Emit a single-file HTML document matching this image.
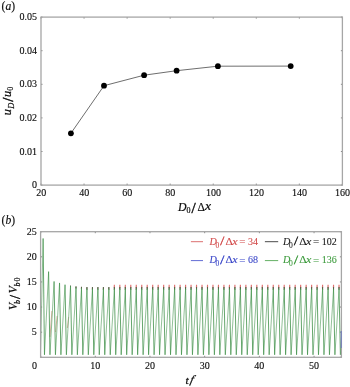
<!DOCTYPE html>
<html><head><meta charset="utf-8"><style>
html,body{margin:0;padding:0;background:#fff;}
body{width:350px;height:387px;overflow:hidden;}
svg{display:block;}
text{font-family:"Liberation Serif",serif;}
</style></head><body>
<svg width="350" height="387" viewBox="0 0 350 387">
<rect width="350" height="387" fill="#fff"/>
<text transform="translate(1.50,9.80)" font-size="11.6" fill="#0d0d0d" stroke="#0d0d0d" stroke-width="0.15">(<tspan font-style="italic">a</tspan>)</text>
<path d="M41.00 185.1v-1.5M41.00 17.1v1.5M84.06 185.1v-1.5M84.06 17.1v1.5M127.11 185.1v-1.5M127.11 17.1v1.5M170.17 185.1v-1.5M170.17 17.1v1.5M213.23 185.1v-1.5M213.23 17.1v1.5M256.29 185.1v-1.5M256.29 17.1v1.5M299.34 185.1v-1.5M299.34 17.1v1.5M342.40 185.1v-1.5M342.40 17.1v1.5M41.0 185.10h1.5M342.4 185.10h-1.5M41.0 151.50h1.5M342.4 151.50h-1.5M41.0 117.90h1.5M342.4 117.90h-1.5M41.0 84.30h1.5M342.4 84.30h-1.5M41.0 50.70h1.5M342.4 50.70h-1.5M41.0 17.10h1.5M342.4 17.10h-1.5" stroke="#666" stroke-width="0.8" fill="none"/>
<rect x="41.0" y="17.1" width="301.40" height="168.00" fill="none" stroke="#a6a6a6" stroke-width="1.3"/>
<text transform="translate(41.20,196.10) scale(0.93,1)" font-size="10.8" text-anchor="middle" fill="#0d0d0d" stroke="#0d0d0d" stroke-width="0.13" >20</text>
<text transform="translate(84.26,196.10) scale(0.93,1)" font-size="10.8" text-anchor="middle" fill="#0d0d0d" stroke="#0d0d0d" stroke-width="0.13" >40</text>
<text transform="translate(127.31,196.10) scale(0.93,1)" font-size="10.8" text-anchor="middle" fill="#0d0d0d" stroke="#0d0d0d" stroke-width="0.13" >60</text>
<text transform="translate(170.37,196.10) scale(0.93,1)" font-size="10.8" text-anchor="middle" fill="#0d0d0d" stroke="#0d0d0d" stroke-width="0.13" >80</text>
<text transform="translate(213.43,196.10) scale(0.93,1)" font-size="10.8" text-anchor="middle" fill="#0d0d0d" stroke="#0d0d0d" stroke-width="0.13" >100</text>
<text transform="translate(256.49,196.10) scale(0.93,1)" font-size="10.8" text-anchor="middle" fill="#0d0d0d" stroke="#0d0d0d" stroke-width="0.13" >120</text>
<text transform="translate(299.54,196.10) scale(0.93,1)" font-size="10.8" text-anchor="middle" fill="#0d0d0d" stroke="#0d0d0d" stroke-width="0.13" >140</text>
<text transform="translate(342.60,196.10) scale(0.93,1)" font-size="10.8" text-anchor="middle" fill="#0d0d0d" stroke="#0d0d0d" stroke-width="0.13" >160</text>
<text transform="translate(37.10,188.11) scale(0.93,1)" font-size="10.8" text-anchor="end" fill="#0d0d0d" stroke="#0d0d0d" stroke-width="0.13" >0</text>
<text transform="translate(37.10,154.51) scale(0.93,1)" font-size="10.8" text-anchor="end" fill="#0d0d0d" stroke="#0d0d0d" stroke-width="0.13" >0.01</text>
<text transform="translate(37.10,120.91) scale(0.93,1)" font-size="10.8" text-anchor="end" fill="#0d0d0d" stroke="#0d0d0d" stroke-width="0.13" >0.02</text>
<text transform="translate(37.10,87.31) scale(0.93,1)" font-size="10.8" text-anchor="end" fill="#0d0d0d" stroke="#0d0d0d" stroke-width="0.13" >0.03</text>
<text transform="translate(37.10,53.71) scale(0.93,1)" font-size="10.8" text-anchor="end" fill="#0d0d0d" stroke="#0d0d0d" stroke-width="0.13" >0.04</text>
<text transform="translate(37.10,20.11) scale(0.93,1)" font-size="10.8" text-anchor="end" fill="#0d0d0d" stroke="#0d0d0d" stroke-width="0.13" >0.05</text>
<polyline points="70.9,133.3 104.0,85.7 144.1,75.2 176.6,70.7 217.9,66.2 290.7,66.1" fill="none" stroke="#6e6e6e" stroke-width="1"/>
<circle cx="70.9" cy="133.3" r="2.9" fill="#000"/>
<circle cx="104.0" cy="85.7" r="2.9" fill="#000"/>
<circle cx="144.1" cy="75.2" r="2.9" fill="#000"/>
<circle cx="176.6" cy="70.7" r="2.9" fill="#000"/>
<circle cx="217.9" cy="66.2" r="2.9" fill="#000"/>
<circle cx="290.7" cy="66.1" r="2.9" fill="#000"/>
<text transform="translate(178.10,210.60)" font-size="11.8" font-style="italic" fill="#0d0d0d" stroke="#0d0d0d" stroke-width="0.2">D</text>
<text transform="translate(186.60,213.40)" font-size="8" fill="#0d0d0d" stroke="#0d0d0d" stroke-width="0.2">0</text>
<text transform="translate(191.40,212.60)" font-size="15" fill="#0d0d0d" stroke="#0d0d0d" stroke-width="0.45">/</text>
<text transform="translate(197.40,210.50)" font-size="11.5" fill="#0d0d0d" stroke="#0d0d0d" stroke-width="0.2">Δ</text>
<text transform="translate(205.10,210.40) scale(1.2,1)" font-size="11.5" font-style="italic" fill="#0d0d0d" stroke="#0d0d0d" stroke-width="0.2">x</text>
<g transform="translate(11,0) rotate(-90)">
<text transform="translate(-115.30,0.00)" font-size="12.3" font-style="italic" fill="#0d0d0d" stroke="#0d0d0d" stroke-width="0.2">u</text>
<text transform="translate(-108.75,2.60)" font-size="8.3" font-style="italic" fill="#0d0d0d" stroke="#0d0d0d" stroke-width="0.2">D</text>
<text transform="translate(-101.65,1.50)" font-size="15" fill="#0d0d0d" stroke="#0d0d0d" stroke-width="0.45">/</text>
<text transform="translate(-96.97,0.00)" font-size="12.3" font-style="italic" fill="#0d0d0d" stroke="#0d0d0d" stroke-width="0.2">u</text>
<text transform="translate(-90.77,2.40)" font-size="8" fill="#0d0d0d" stroke="#0d0d0d" stroke-width="0.2">0</text>
</g>
<text transform="translate(1.50,224.25)" font-size="11.6" fill="#0d0d0d" stroke="#0d0d0d" stroke-width="0.15">(<tspan font-style="italic">b</tspan>)</text>
<path d="M40.60 357.3v-1.5M40.60 231.7v1.5M95.29 357.3v-1.5M95.29 231.7v1.5M149.98 357.3v-1.5M149.98 231.7v1.5M204.67 357.3v-1.5M204.67 231.7v1.5M259.36 357.3v-1.5M259.36 231.7v1.5M314.05 357.3v-1.5M314.05 231.7v1.5M40.6 357.30h1.5M341.4 357.30h-1.5M40.6 332.18h1.5M341.4 332.18h-1.5M40.6 307.06h1.5M341.4 307.06h-1.5M40.6 281.94h1.5M341.4 281.94h-1.5M40.6 256.82h1.5M341.4 256.82h-1.5M40.6 231.70h1.5M341.4 231.70h-1.5" stroke="#666" stroke-width="0.8" fill="none"/>
<clipPath id="cb"><rect x="40.6" y="231.7" width="300.79999999999995" height="125.60000000000002"/></clipPath>
<filter id="bl" x="-5%" y="-5%" width="110%" height="110%"><feGaussianBlur stdDeviation="0.2"/></filter>
<g clip-path="url(#cb)"><g fill="none" filter="url(#bl)">
<path d="M114.20 287.71L114.36 284.70L114.41 287.71M119.68 287.71L119.84 284.70L119.89 287.71M125.16 287.71L125.32 284.70L125.37 287.71M130.64 287.71L130.80 284.70L130.85 287.71M136.12 287.71L136.28 284.70L136.33 287.71M141.60 287.71L141.76 284.70L141.81 287.71M147.08 287.71L147.24 284.70L147.29 287.71M152.56 287.71L152.72 284.70L152.77 287.71M158.04 287.71L158.20 284.70L158.25 287.71M163.52 287.71L163.68 284.70L163.73 287.71M169.00 287.71L169.16 284.70L169.21 287.71M174.48 287.71L174.64 284.70L174.69 287.71M179.96 287.71L180.12 284.70L180.17 287.71M185.44 287.71L185.60 284.70L185.65 287.71M190.92 287.71L191.08 284.70L191.13 287.71M196.40 287.71L196.56 284.70L196.61 287.71M201.88 287.71L202.04 284.70L202.09 287.71M207.36 287.71L207.52 284.70L207.57 287.71M212.84 287.71L213.00 284.70L213.05 287.71M218.32 287.71L218.48 284.70L218.53 287.71M223.80 287.71L223.96 284.70L224.01 287.71M229.28 287.71L229.44 284.70L229.49 287.71M234.76 287.71L234.92 284.70L234.97 287.71M240.24 287.71L240.40 284.70L240.45 287.71M245.72 287.71L245.88 284.70L245.93 287.71M251.20 287.71L251.36 284.70L251.41 287.71M256.68 287.71L256.84 284.70L256.89 287.71M262.16 287.71L262.32 284.70L262.37 287.71M267.64 287.71L267.80 284.70L267.85 287.71M273.12 287.71L273.28 284.70L273.33 287.71M278.60 287.71L278.76 284.70L278.81 287.71M284.08 287.71L284.24 284.70L284.29 287.71M289.56 287.71L289.72 284.70L289.77 287.71M295.04 287.71L295.20 284.70L295.25 287.71M300.52 287.71L300.68 284.70L300.73 287.71M306.00 287.71L306.16 284.70L306.21 287.71M311.48 287.71L311.64 284.70L311.69 287.71M316.96 287.71L317.12 284.70L317.17 287.71M322.44 287.71L322.60 284.70L322.65 287.71M327.92 287.71L328.08 284.70L328.13 287.71M333.40 287.71L333.56 284.70L333.61 287.71M338.88 287.71L339.04 284.70L339.09 287.71M344.36 287.71L344.52 284.70L344.57 287.71" stroke="#e07070" stroke-width="1.1"/>
<path d="M50.0 337L51.9 311M55.6 332L57.1 316M67.4 328L68.6 317" stroke="#c98a70" stroke-width="0.9" opacity="0.75"/>
<path d="M70.48 286.81L70.52 285.71L70.53 286.81M75.92 288.32L76.00 286.46L76.02 288.32M81.37 289.07L81.48 286.86L81.51 289.07M86.84 289.57L86.96 287.11L86.99 289.57M92.32 289.57L92.44 287.11L92.47 289.57M97.80 289.57L97.92 287.11L97.95 289.57M103.28 289.57L103.40 287.11L103.43 289.57M108.76 289.57L108.88 287.11L108.91 289.57M114.24 289.57L114.36 287.11L114.39 289.57M119.72 289.57L119.84 287.11L119.87 289.57M125.20 289.57L125.32 287.11L125.35 289.57M130.68 289.57L130.80 287.11L130.83 289.57M136.16 289.57L136.28 287.11L136.31 289.57M141.64 289.57L141.76 287.11L141.79 289.57M147.12 289.57L147.24 287.11L147.27 289.57M152.60 289.57L152.72 287.11L152.75 289.57M158.08 289.57L158.20 287.11L158.23 289.57M163.56 289.57L163.68 287.11L163.71 289.57M169.04 289.57L169.16 287.11L169.19 289.57M174.52 289.57L174.64 287.11L174.67 289.57M180.00 289.57L180.12 287.11L180.15 289.57M185.48 289.57L185.60 287.11L185.63 289.57M190.96 289.57L191.08 287.11L191.11 289.57M196.44 289.57L196.56 287.11L196.59 289.57M201.92 289.57L202.04 287.11L202.07 289.57M207.40 289.57L207.52 287.11L207.55 289.57M212.88 289.57L213.00 287.11L213.03 289.57M218.36 289.57L218.48 287.11L218.51 289.57M223.84 289.57L223.96 287.11L223.99 289.57M229.32 289.57L229.44 287.11L229.47 289.57M234.80 289.57L234.92 287.11L234.95 289.57M240.28 289.57L240.40 287.11L240.43 289.57M245.76 289.57L245.88 287.11L245.91 289.57M251.24 289.57L251.36 287.11L251.39 289.57M256.72 289.57L256.84 287.11L256.87 289.57M262.20 289.57L262.32 287.11L262.35 289.57M267.68 289.57L267.80 287.11L267.83 289.57M273.16 289.57L273.28 287.11L273.31 289.57M278.64 289.57L278.76 287.11L278.79 289.57M284.12 289.57L284.24 287.11L284.27 289.57M289.60 289.57L289.72 287.11L289.75 289.57M295.08 289.57L295.20 287.11L295.23 289.57M300.56 289.57L300.68 287.11L300.71 289.57M306.04 289.57L306.16 287.11L306.19 289.57M311.52 289.57L311.64 287.11L311.67 289.57M317.00 289.57L317.12 287.11L317.15 289.57M322.48 289.57L322.60 287.11L322.63 289.57M327.96 289.57L328.08 287.11L328.11 289.57M333.44 289.57L333.56 287.11L333.59 289.57M338.92 289.57L339.04 287.11L339.07 289.57M344.40 289.57L344.52 287.11L344.55 289.57" stroke="#5a6448" stroke-width="1.0"/>
<path d="M40.60 349.76L43.12 238.48M44.48 354.79L48.60 271.64M49.96 354.79L54.08 281.44M55.44 354.79L59.56 282.94M60.92 354.79L65.04 284.70M66.40 354.79L70.52 286.21M71.88 354.79L76.00 287.72M77.36 354.79L81.48 288.47M82.84 354.79L86.96 288.97M88.32 354.79L92.44 288.97M93.80 354.79L97.92 288.97M99.28 354.79L103.40 288.97M104.76 354.79L108.88 288.97M110.24 354.79L114.36 288.97M115.72 354.79L119.84 288.97M121.20 354.79L125.32 288.97M126.68 354.79L130.80 288.97M132.16 354.79L136.28 288.97M137.64 354.79L141.76 288.97M143.12 354.79L147.24 288.97M148.60 354.79L152.72 288.97M154.08 354.79L158.20 288.97M159.56 354.79L163.68 288.97M165.04 354.79L169.16 288.97M170.52 354.79L174.64 288.97M176.00 354.79L180.12 288.97M181.48 354.79L185.60 288.97M186.96 354.79L191.08 288.97M192.44 354.79L196.56 288.97M197.92 354.79L202.04 288.97M203.40 354.79L207.52 288.97M208.88 354.79L213.00 288.97M214.36 354.79L218.48 288.97M219.84 354.79L223.96 288.97M225.32 354.79L229.44 288.97M230.80 354.79L234.92 288.97M236.28 354.79L240.40 288.97M241.76 354.79L245.88 288.97M247.24 354.79L251.36 288.97M252.72 354.79L256.84 288.97M258.20 354.79L262.32 288.97M263.68 354.79L267.80 288.97M269.16 354.79L273.28 288.97M274.64 354.79L278.76 288.97M280.12 354.79L284.24 288.97M285.60 354.79L289.72 288.97M291.08 354.79L295.20 288.97M296.56 354.79L300.68 288.97M302.04 354.79L306.16 288.97M307.52 354.79L311.64 288.97M313.00 354.79L317.12 288.97M318.48 354.79L322.60 288.97M323.96 354.79L328.08 288.97M329.44 354.79L333.56 288.97M334.92 354.79L339.04 288.97M340.40 354.79L344.52 288.97" stroke="#6eab75" stroke-width="0.75"/>
<path d="M43.12 238.48L44.48 354.79M48.60 271.64L49.96 354.79M54.08 281.44L55.44 354.79M59.56 282.94L60.92 354.79M65.04 284.70L66.40 354.79M70.52 286.21L71.88 354.79M76.00 287.72L77.36 354.79M81.48 288.47L82.84 354.79M86.96 288.97L88.32 354.79M92.44 288.97L93.80 354.79M97.92 288.97L99.28 354.79M103.40 288.97L104.76 354.79M108.88 288.97L110.24 354.79M114.36 288.97L115.72 354.79M119.84 288.97L121.20 354.79M125.32 288.97L126.68 354.79M130.80 288.97L132.16 354.79M136.28 288.97L137.64 354.79M141.76 288.97L143.12 354.79M147.24 288.97L148.60 354.79M152.72 288.97L154.08 354.79M158.20 288.97L159.56 354.79M163.68 288.97L165.04 354.79M169.16 288.97L170.52 354.79M174.64 288.97L176.00 354.79M180.12 288.97L181.48 354.79M185.60 288.97L186.96 354.79M191.08 288.97L192.44 354.79M196.56 288.97L197.92 354.79M202.04 288.97L203.40 354.79M207.52 288.97L208.88 354.79M213.00 288.97L214.36 354.79M218.48 288.97L219.84 354.79M223.96 288.97L225.32 354.79M229.44 288.97L230.80 354.79M234.92 288.97L236.28 354.79M240.40 288.97L241.76 354.79M245.88 288.97L247.24 354.79M251.36 288.97L252.72 354.79M256.84 288.97L258.20 354.79M262.32 288.97L263.68 354.79M267.80 288.97L269.16 354.79M273.28 288.97L274.64 354.79M278.76 288.97L280.12 354.79M284.24 288.97L285.60 354.79M289.72 288.97L291.08 354.79M295.20 288.97L296.56 354.79M300.68 288.97L302.04 354.79M306.16 288.97L307.52 354.79M311.64 288.97L313.00 354.79M317.12 288.97L318.48 354.79M322.60 288.97L323.96 354.79M328.08 288.97L329.44 354.79M333.56 288.97L334.92 354.79M339.04 288.97L340.40 354.79M344.52 288.97L345.88 354.79" stroke="#3d8f46" stroke-width="0.8"/>
</g></g>
<rect x="40.6" y="231.7" width="300.80" height="125.60" fill="none" stroke="#a6a6a6" stroke-width="1.3"/>
<line x1="341.2" x2="341.2" y1="331" y2="348" stroke="#6a78c0" stroke-width="1"/>
<text transform="translate(34.40,369.26) scale(0.93,1)" font-size="10.8" text-anchor="middle" fill="#0d0d0d" stroke="#0d0d0d" stroke-width="0.13" >0</text>
<text transform="translate(95.29,369.26) scale(0.93,1)" font-size="10.8" text-anchor="middle" fill="#0d0d0d" stroke="#0d0d0d" stroke-width="0.13" >10</text>
<text transform="translate(149.98,369.26) scale(0.93,1)" font-size="10.8" text-anchor="middle" fill="#0d0d0d" stroke="#0d0d0d" stroke-width="0.13" >20</text>
<text transform="translate(204.67,369.26) scale(0.93,1)" font-size="10.8" text-anchor="middle" fill="#0d0d0d" stroke="#0d0d0d" stroke-width="0.13" >30</text>
<text transform="translate(259.36,369.26) scale(0.93,1)" font-size="10.8" text-anchor="middle" fill="#0d0d0d" stroke="#0d0d0d" stroke-width="0.13" >40</text>
<text transform="translate(314.05,369.26) scale(0.93,1)" font-size="10.8" text-anchor="middle" fill="#0d0d0d" stroke="#0d0d0d" stroke-width="0.13" >50</text>
<text transform="translate(36.80,335.24) scale(0.93,1)" font-size="10.8" text-anchor="end" fill="#0d0d0d" stroke="#0d0d0d" stroke-width="0.13" >5</text>
<text transform="translate(36.80,310.12) scale(0.93,1)" font-size="10.8" text-anchor="end" fill="#0d0d0d" stroke="#0d0d0d" stroke-width="0.13" >10</text>
<text transform="translate(36.80,285.00) scale(0.93,1)" font-size="10.8" text-anchor="end" fill="#0d0d0d" stroke="#0d0d0d" stroke-width="0.13" >15</text>
<text transform="translate(36.80,259.88) scale(0.93,1)" font-size="10.8" text-anchor="end" fill="#0d0d0d" stroke="#0d0d0d" stroke-width="0.13" >20</text>
<text transform="translate(36.80,234.76) scale(0.93,1)" font-size="10.8" text-anchor="end" fill="#0d0d0d" stroke="#0d0d0d" stroke-width="0.13" >25</text>
<line x1="190.9" x2="203" y1="241.7" y2="241.7" stroke="#d24a4a" stroke-width="0.8"/>
<text transform="translate(209.40,244.50)" font-size="10.2" font-style="italic" fill="#d24a4a" stroke="#d24a4a" stroke-width="0.1">D</text>
<text transform="translate(215.40,247.50)" font-size="7.5" fill="#d24a4a" stroke="#d24a4a" stroke-width="0.1">0</text>
<text transform="translate(220.30,245.30) skewX(-4)" font-size="12.5" fill="#d24a4a" stroke="#d24a4a" stroke-width="0.45">/</text>
<text transform="translate(225.60,244.50) scale(1.15,1)" font-size="10" fill="#d24a4a" stroke="#d24a4a" stroke-width="0.1">Δ</text>
<text transform="translate(232.20,244.50) scale(1.1,1)" font-size="11" font-style="italic" fill="#d24a4a" stroke="#d24a4a" stroke-width="0.1">x</text>
<text transform="translate(239.35,245.30)" font-size="11" fill="#d24a4a" stroke="#d24a4a" stroke-width="0.1">=</text>
<text transform="translate(248.00,244.50)" font-size="10" fill="#d24a4a" stroke="#d24a4a" stroke-width="0.1">34</text>
<line x1="190.9" x2="203" y1="260.6" y2="260.6" stroke="#3a46c8" stroke-width="0.8"/>
<text transform="translate(209.40,263.40)" font-size="10.2" font-style="italic" fill="#3a46c8" stroke="#3a46c8" stroke-width="0.1">D</text>
<text transform="translate(215.40,266.40)" font-size="7.5" fill="#3a46c8" stroke="#3a46c8" stroke-width="0.1">0</text>
<text transform="translate(220.30,264.20) skewX(-4)" font-size="12.5" fill="#3a46c8" stroke="#3a46c8" stroke-width="0.45">/</text>
<text transform="translate(225.60,263.40) scale(1.15,1)" font-size="10" fill="#3a46c8" stroke="#3a46c8" stroke-width="0.1">Δ</text>
<text transform="translate(232.20,263.40) scale(1.1,1)" font-size="11" font-style="italic" fill="#3a46c8" stroke="#3a46c8" stroke-width="0.1">x</text>
<text transform="translate(239.35,264.20)" font-size="11" fill="#3a46c8" stroke="#3a46c8" stroke-width="0.1">=</text>
<text transform="translate(248.00,263.40)" font-size="10" fill="#3a46c8" stroke="#3a46c8" stroke-width="0.1">68</text>
<line x1="264.9" x2="278.2" y1="241.7" y2="241.7" stroke="#1a1a1a" stroke-width="0.8"/>
<text transform="translate(283.10,244.50)" font-size="10.2" font-style="italic" fill="#1a1a1a" stroke="#1a1a1a" stroke-width="0.1">D</text>
<text transform="translate(289.10,247.50)" font-size="7.5" fill="#1a1a1a" stroke="#1a1a1a" stroke-width="0.1">0</text>
<text transform="translate(294.00,245.30) skewX(-4)" font-size="12.5" fill="#1a1a1a" stroke="#1a1a1a" stroke-width="0.45">/</text>
<text transform="translate(299.30,244.50) scale(1.15,1)" font-size="10" fill="#1a1a1a" stroke="#1a1a1a" stroke-width="0.1">Δ</text>
<text transform="translate(305.90,244.50) scale(1.1,1)" font-size="11" font-style="italic" fill="#1a1a1a" stroke="#1a1a1a" stroke-width="0.1">x</text>
<text transform="translate(313.05,245.30)" font-size="11" fill="#1a1a1a" stroke="#1a1a1a" stroke-width="0.1">=</text>
<text transform="translate(321.70,244.50)" font-size="10" fill="#1a1a1a" stroke="#1a1a1a" stroke-width="0.1">102</text>
<line x1="264.9" x2="278.2" y1="260.6" y2="260.6" stroke="#3c9a3c" stroke-width="0.8"/>
<text transform="translate(283.10,263.40)" font-size="10.2" font-style="italic" fill="#3c9a3c" stroke="#3c9a3c" stroke-width="0.1">D</text>
<text transform="translate(289.10,266.40)" font-size="7.5" fill="#3c9a3c" stroke="#3c9a3c" stroke-width="0.1">0</text>
<text transform="translate(294.00,264.20) skewX(-4)" font-size="12.5" fill="#3c9a3c" stroke="#3c9a3c" stroke-width="0.45">/</text>
<text transform="translate(299.30,263.40) scale(1.15,1)" font-size="10" fill="#3c9a3c" stroke="#3c9a3c" stroke-width="0.1">Δ</text>
<text transform="translate(305.90,263.40) scale(1.1,1)" font-size="11" font-style="italic" fill="#3c9a3c" stroke="#3c9a3c" stroke-width="0.1">x</text>
<text transform="translate(313.05,264.20)" font-size="11" fill="#3c9a3c" stroke="#3c9a3c" stroke-width="0.1">=</text>
<text transform="translate(321.70,263.40)" font-size="10" fill="#3c9a3c" stroke="#3c9a3c" stroke-width="0.1">136</text>
<text transform="translate(185.50,383.60)" font-size="11.4" font-style="italic" fill="#0d0d0d" stroke="#0d0d0d" stroke-width="0.3">t</text>
<text transform="translate(189.70,383.40) skewX(-14)" font-size="11.2" font-style="italic" fill="#0d0d0d" stroke="#0d0d0d" stroke-width="0.3">f</text>
<g transform="translate(16.6,0) rotate(-90)">
<text transform="translate(-310.00,0.00)" font-size="11.5" font-style="italic" fill="#0d0d0d" stroke="#0d0d0d" stroke-width="0.22">V</text>
<text transform="translate(-304.00,3.20)" font-size="8" font-style="italic" fill="#0d0d0d" stroke="#0d0d0d" stroke-width="0.22">b</text>
<text transform="translate(-298.90,3.00)" font-size="14.5" fill="#0d0d0d" stroke="#0d0d0d" stroke-width="0.45">/</text>
<text transform="translate(-293.20,0.00)" font-size="11.5" font-style="italic" fill="#0d0d0d" stroke="#0d0d0d" stroke-width="0.22">V</text>
<text transform="translate(-286.60,3.30)" font-size="8" font-style="italic" fill="#0d0d0d" stroke="#0d0d0d" stroke-width="0.22">b</text>
<text transform="translate(-281.40,3.30)" font-size="8" fill="#0d0d0d" stroke="#0d0d0d" stroke-width="0.22">0</text>
</g>
</svg>
</body></html>
